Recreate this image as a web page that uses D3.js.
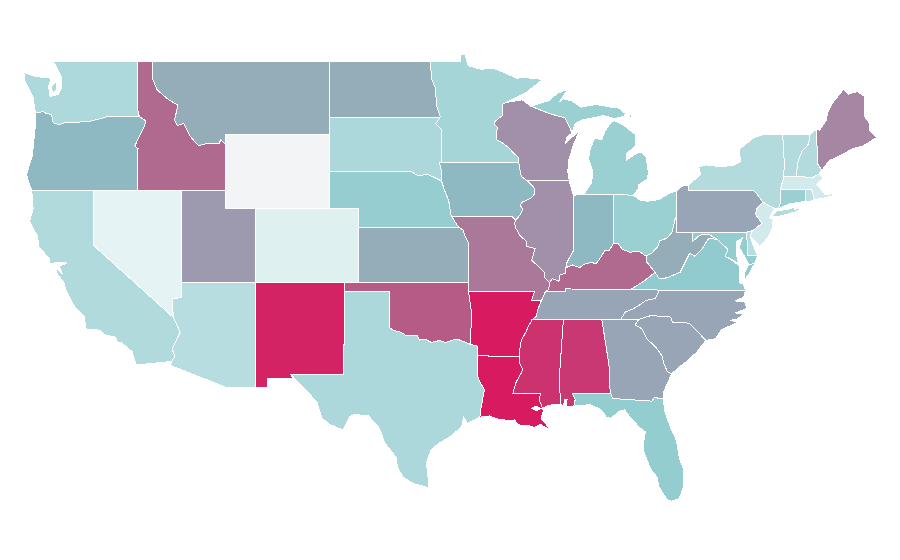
<!DOCTYPE html>
<html>
<head>
<meta charset="utf-8">
<script src="https://cdn.jsdelivr.net/npm/d3@7"></script>
<style>
  html, body { margin: 0; padding: 0; background: #fff; }
  .state { stroke: #fff; stroke-width: 1px; fill-rule: evenodd; shape-rendering: crispEdges; }
</style>
</head>
<body>
<svg id="map" width="900" height="560"></svg>
<script>
// shared borders, [lon, lat]
var stCroix = [[-92.1,46.75],[-92.29,46.66],[-92.29,46.07],[-92.87,45.7],[-92.88,45.57],[-92.65,45.4],[-92.76,45.0],[-92.75,44.75],[-92.3,44.55],[-91.9,44.3],[-91.6,44.03],[-91.26,43.8],[-91.22,43.5]];
var iaWi = [[-91.22,43.5],[-91.15,43.15],[-91.05,42.75],[-90.64,42.5]];
var iaIl = [[-90.64,42.5],[-90.42,42.33],[-90.15,42.1],[-90.16,41.8],[-90.34,41.6],[-90.66,41.46],[-91.05,41.33],[-91.1,41.15],[-90.95,40.95],[-91.1,40.7],[-91.42,40.38]];
var moIl = [[-91.42,40.38],[-91.5,40.2],[-91.42,39.93],[-91.1,39.5],[-90.73,39.25],[-90.68,38.95],[-90.2,38.85],[-90.12,38.83],[-90.2,38.6],[-90.35,38.2],[-89.9,37.88],[-89.5,37.55],[-89.5,37.3],[-89.13,37.0]];
var moKy = [[-89.13,37.0],[-89.2,36.62],[-89.42,36.5]];
var moTn = [[-89.42,36.5],[-89.6,36.15],[-89.7,36.0]];
var arTn = [[-89.7,36.0],[-89.9,35.6],[-90.05,35.15],[-90.3,35.0]];
var arMs = [[-90.3,35.0],[-90.55,34.65],[-90.75,34.3],[-91.05,33.85],[-91.15,33.4],[-91.17,33.0]];
var laMs = [[-91.17,33.0],[-91.15,32.6],[-90.95,32.3],[-91.05,32.1],[-91.4,31.6],[-91.62,31.0],[-89.73,31.0],[-89.85,30.65],[-89.6,30.18]];
var ilKy = [[-89.13,37.0],[-88.95,37.2],[-88.5,37.07],[-88.45,37.4],[-88.07,37.5],[-88.03,37.8]];
var wabash = [[-88.03,37.8],[-87.95,38.1],[-87.75,38.4],[-87.53,38.7],[-87.53,41.72]];
var inKy = [[-88.03,37.8],[-87.6,37.95],[-87.1,37.8],[-86.8,37.98],[-86.3,38.1],[-86.0,38.0],[-85.75,38.27],[-85.4,38.72],[-85.1,38.72],[-84.82,39.1]];
var ohKy = [[-84.82,39.1],[-84.5,39.1],[-84.2,38.8],[-83.7,38.63],[-83.1,38.7],[-82.6,38.42]];
var ohWv = [[-82.6,38.42],[-82.2,38.6],[-81.75,39.0],[-81.7,39.25],[-81.2,39.4],[-80.85,39.7],[-80.65,40.4],[-80.52,40.64]];
var kyWv = [[-82.6,38.42],[-82.6,38.15],[-82.0,37.55]];
var kyVa = [[-82.0,37.55],[-82.7,37.1],[-83.68,36.6]];
var vaWv = [[-82.0,37.55],[-81.7,37.2],[-81.2,37.25],[-80.3,37.55],[-79.65,38.58],[-79.3,38.42],[-78.85,38.77],[-78.35,39.4],[-77.75,39.32]];
var mdVa = [[-77.75,39.32],[-77.5,39.1],[-77.05,38.8],[-77.25,38.4],[-76.95,38.3]];
var tnNc = [[-81.68,36.59],[-82.0,36.12],[-82.6,36.03],[-83.1,35.75],[-83.5,35.56],[-84.0,35.4],[-84.32,35.0]];
var ncSc = [[-78.55,33.86],[-79.67,34.8],[-80.8,34.82],[-80.93,35.1],[-81.05,35.15],[-82.3,35.2],[-83.1,35.0]];
var gaSc = [[-83.1,35.0],[-83.35,34.7],[-82.9,34.5],[-82.55,33.95],[-81.95,33.5],[-81.5,33.0],[-81.4,32.6],[-81.15,32.15],[-80.87,32.05]];
var gaFl = [[-81.45,30.72],[-82.05,30.75],[-82.2,30.57],[-84.86,30.71],[-85.0,31.0]];
var gaAl = [[-85.0,31.0],[-85.1,31.55],[-85.05,32.1],[-85.18,32.87],[-85.6,35.0]];
var alMs = [[-88.2,35.0],[-88.47,31.9],[-88.4,30.37]];
var alFl = [[-85.0,31.0],[-87.6,31.0],[-87.4,30.65],[-87.5,30.3]];
var redRiver = [[-100.0,34.56],[-99.7,34.4],[-99.2,34.3],[-98.9,34.15],[-98.5,34.1],[-98.1,34.13],[-97.95,33.88],[-97.5,33.9],[-97.15,33.75],[-96.6,33.85],[-96.2,33.75],[-95.6,33.9],[-95.2,33.88],[-94.48,33.64]];
var arOk = [[-94.48,33.64],[-94.43,35.4],[-94.62,36.5]];
var laTx = [[-94.04,33.02],[-94.04,32.0],[-93.85,31.6],[-93.55,31.2],[-93.7,30.5],[-93.8,30.1],[-93.85,29.7]];
var moKsNe = [[-94.62,37.0],[-94.6,39.1],[-94.9,39.6],[-95.0,39.85],[-95.3,40.0]];
var neIa = [[-96.45,42.5],[-96.25,42.0],[-96.0,41.5],[-95.9,41.2],[-95.85,40.7],[-95.77,40.58]];
var sdNe = [[-104.05,43.0],[-98.5,43.0],[-98.0,42.77],[-97.4,42.87],[-96.45,42.5]];
var ndMn = [[-97.23,49.0],[-97.1,48.0],[-96.85,47.5],[-96.8,46.6],[-96.55,46.0],[-96.56,45.94]];
var sdMn = [[-96.56,45.94],[-96.85,45.6],[-96.45,45.3],[-96.45,43.5]];
var sdIa = [[-96.45,43.5],[-96.6,43.5],[-96.45,43.05],[-96.45,42.5]];
var columbia = [[-116.92,46.0],[-118.98,46.0],[-119.3,45.93],[-120.15,45.75],[-120.65,45.73],[-121.2,45.65],[-121.9,45.68],[-122.3,45.55],[-122.75,45.65],[-122.85,46.1],[-123.2,46.15],[-123.4,46.25],[-123.95,46.2]];
var snake = [[-117.03,42.0],[-117.03,43.83],[-117.0,44.25],[-117.22,44.4],[-116.85,45.0],[-116.55,45.5],[-116.47,45.75],[-116.92,46.0]];
var bitterroot = [[-116.05,49.0],[-116.0,48.0],[-115.7,47.43],[-114.93,46.9],[-114.3,46.6],[-114.53,45.8],[-114.35,45.5],[-113.9,45.62],[-113.45,44.9],[-112.9,44.4],[-112.3,44.55],[-111.5,44.55],[-111.4,44.72],[-111.05,44.47]];
var caNv = [[-120.0,39.0],[-114.6,35.1]];
var caAz = [[-114.6,35.1],[-114.15,34.3],[-114.7,33.4],[-114.5,33.0],[-114.72,32.72]];
var azNv = [[-114.6,35.1],[-114.7,36.1],[-114.05,36.2]];
var kyTn = [[-89.42,36.5],[-88.07,36.5],[-88.07,36.65],[-83.68,36.6]];
var nyPa = [[-75.35,42.0],[-75.05,41.75],[-74.7,41.36]];
var njPa = [[-74.7,41.36],[-75.1,41.0],[-75.2,40.7],[-74.75,40.2],[-75.4,39.8]];
var nyNj = [[-74.7,41.36],[-73.9,41.0]];
var nyCt = [[-73.65,41.0],[-73.5,41.3],[-73.5,42.05]];
var nyVt = [[-73.27,42.75],[-73.25,43.6],[-73.35,45.0]];
var vtNh = [[-71.5,45.0],[-71.6,44.5],[-72.05,44.1],[-72.3,43.6],[-72.46,42.73]];
var nhMe = [[-71.08,45.3],[-70.97,43.4],[-70.7,43.07]];
var miWi = [[-90.4,46.55],[-89.1,46.14],[-88.1,45.92],[-87.75,45.35],[-87.6,45.1]];
var miOh = [[-84.8,41.76],[-83.45,41.73]];
var ctRi = [[-71.8,42.02],[-71.8,41.4]];
var maRi = [[-71.8,42.02],[-71.38,42.02],[-71.2,41.5]];
var maNh = [[-72.46,42.73],[-71.3,42.7],[-70.9,42.88]];

function rev(line) { return line.slice().reverse(); }
function ring() { return d3.merge(Array.from(arguments)); }

// each state is a list of rings
var shapeAL = [ring([[-88.2,35.0],[-85.6,35.0]], rev(gaAl), alFl, [[-88.0,30.25],[-87.95,30.65],[-88.1,30.65],[-88.2,30.35],[-88.4,30.37]], rev(alMs))];
var shapeAZ = [ring([[-114.05,37.0],[-109.05,37.0],[-109.05,31.33],[-111.07,31.33],[-114.8,32.5]], rev(caAz), azNv)];
var shapeAR = [ring([[-94.62,36.5],[-90.15,36.5],[-90.37,36.0]], arTn, arMs, [[-94.04,33.02],[-94.04,33.55]], arOk)];
var shapeCA = [ring([[-124.2,42.0],[-120.0,42.0]], caNv, caAz, [[-117.12,32.53],[-117.25,32.85],[-117.4,33.25],[-118.1,33.72],[-118.4,33.75],[-118.5,34.03],[-119.2,34.15],[-119.6,34.42],[-120.5,34.45],[-120.65,35.15],[-121.3,35.7],[-121.9,36.6],[-122.0,36.97],[-122.5,37.5],[-122.48,37.75],[-122.1,37.45],[-122.35,37.88],[-121.8,38.05],[-122.4,38.1],[-122.95,38.0],[-123.0,38.3],[-123.7,38.9],[-123.8,39.5],[-124.35,40.3],[-124.1,41.0]])];
var shapeCO = [[[-109.05,41.0],[-102.05,41.0],[-102.05,37.0],[-109.05,37.0]]];
var shapeCT = [ring(nyCt, ctRi, [[-72.9,41.25]])];
var shapeDE = [[[-75.8,39.72],[-75.55,39.83],[-75.4,39.8],[-75.55,39.5],[-75.4,39.1],[-75.05,38.45],[-75.7,38.45]]];
var shapeFL = [ring(gaFl, alFl, [[-86.4,30.38],[-85.75,30.15],[-85.4,29.85],[-85.35,29.68],[-85.0,29.65],[-84.35,30.05],[-84.05,30.1],[-83.7,29.7],[-83.05,29.15],[-82.65,28.9],[-82.8,28.2],[-82.75,27.8],[-82.45,27.2],[-82.25,26.85],[-81.85,26.45],[-81.75,25.95],[-81.15,25.2],[-80.85,25.15],[-80.35,25.3],[-80.1,25.85],[-80.03,26.8],[-80.35,27.5],[-80.55,28.45],[-80.9,29.05],[-81.3,29.9]])];
var shapeGA = [ring([[-85.6,35.0],[-84.32,35.0]], gaSc, [[-81.15,31.55],[-81.45,31.0]], gaFl, gaAl)];
var shapeID = [ring([[-117.03,49.0]], bitterroot, [[-111.05,42.0],[-114.05,42.0]], snake, [[-117.04,46.42]])];
var shapeIL = [ring(iaIl, moIl, ilKy, wabash, [[-87.8,42.5]])];
var shapeIN = [ring([[-87.2,41.76],[-84.8,41.76]], rev(inKy), wabash)];
var shapeIA = [ring([[-96.45,43.5],[-91.22,43.5]], iaWi, iaIl, [[-91.73,40.6]], rev(neIa), rev(sdIa))];
var shapeKS = [ring([[-102.05,40.0]], rev(moKsNe), [[-102.05,37.0]])];
var shapeKY = [ring(ilKy, inKy, ohKy, kyWv, kyVa, rev(kyTn), rev(moKy))];
var shapeLA = [ring(laMs, [[-89.55,30.0],[-89.7,29.75],[-89.65,29.55],[-89.3,29.25],[-89.14,29.0],[-89.5,29.2],[-89.75,29.3],[-90.0,29.2],[-90.2,29.15],[-90.6,29.25],[-91.0,29.25],[-91.3,29.3],[-91.5,29.55],[-91.85,29.5],[-92.2,29.55],[-92.6,29.58],[-93.2,29.77]], rev(laTx)), [[-90.35,30.17],[-90.05,30.3],[-89.72,30.17],[-90.05,30.05]]];
var shapeME = [ring(nhMe, [[-70.2,43.6],[-69.8,43.75],[-69.05,44.05],[-68.6,44.25],[-67.9,44.4],[-67.0,44.85],[-67.45,45.2],[-67.45,45.6],[-67.78,45.95],[-67.8,47.07],[-68.3,47.35],[-68.9,47.2],[-69.25,47.45],[-70.0,46.7],[-70.3,46.2],[-70.4,45.8],[-70.85,45.25]])];
var shapeMD = [ring([[-79.48,39.72],[-75.8,39.72],[-75.7,38.45],[-75.05,38.45],[-75.25,38.03],[-75.65,37.95],[-75.85,38.3],[-76.3,38.9],[-76.1,39.4],[-76.5,39.2],[-76.5,38.6],[-76.35,38.05]], rev(mdVa), [[-78.4,39.62],[-78.8,39.6],[-79.1,39.47],[-79.48,39.2]])];
var shapeMA = [ring([[-73.5,42.05],[-73.27,42.75]], maNh, [[-70.6,42.65],[-71.05,42.3],[-70.65,41.95],[-70.5,41.78],[-70.0,41.8],[-70.05,42.05],[-69.95,41.7],[-70.65,41.55]], rev(maRi))];
var shapeMI = [
  ring([[-86.82,41.76]], miOh, [[-83.15,42.05],[-83.1,42.3],[-82.5,42.6],[-82.45,43.0],[-82.6,43.8],[-82.95,44.07],[-83.35,43.95],[-83.9,43.65],[-83.9,44.0],[-83.3,44.4],[-83.3,45.0],[-84.1,45.5],[-84.75,45.78],[-85.0,45.65],[-85.35,45.25],[-85.6,44.75],[-86.1,44.8],[-86.4,44.2],[-86.5,43.7],[-86.2,43.0],[-86.3,42.4]]),
  ring(miWi, [[-87.4,45.6],[-86.95,45.8],[-86.3,45.9],[-85.5,46.05],[-84.75,45.88],[-84.1,46.0],[-84.0,46.15],[-84.45,46.45],[-85.0,46.5],[-86.0,46.65],[-87.0,46.5],[-87.6,46.83],[-88.2,46.95],[-88.45,46.8],[-87.9,47.47],[-88.6,47.25],[-89.2,46.85]]),
  [[-89.2,47.87],[-88.55,48.17],[-88.95,47.95]],
  [[-83.9,46.05],[-83.5,46.1],[-83.65,45.95]]
];
var shapeMN = [ring([[-97.23,49.0],[-95.15,49.0],[-95.15,49.38],[-94.85,49.33],[-94.65,48.75],[-93.8,48.55],[-92.95,48.62],[-92.0,48.3],[-91.4,48.07],[-90.75,48.1],[-89.6,48.0],[-90.7,47.3]], stCroix, [[-96.45,43.5]], rev(sdMn), rev(ndMn))];
var shapeMS = [ring([[-90.3,35.0]], alMs, [[-88.85,30.4],[-89.3,30.3]], rev(laMs), rev(arMs))];
var shapeMO = [ring([[-95.77,40.58],[-91.73,40.6]], moIl, moKy, moTn, [[-90.37,36.0],[-90.15,36.5],[-94.62,36.5]], moKsNe)];
var shapeMT = [ring(bitterroot, [[-111.05,45.0],[-104.05,45.0],[-104.05,49.0]])];
var shapeNE = [ring(sdNe, neIa, [[-95.3,40.0],[-102.05,40.0],[-102.05,41.0],[-104.05,41.0]])];
var shapeNV = [ring([[-120.0,42.0],[-114.05,42.0]], rev(azNv), rev(caNv))];
var shapeNH = [ring(vtNh, maNh, rev(nhMe))];
var shapeNJ = [ring(njPa, [[-75.55,39.5],[-75.15,39.2],[-74.9,38.93],[-74.4,39.4],[-74.05,39.9],[-74.0,40.4],[-74.25,40.5]], rev(nyNj))];
var shapeNM = [[[-109.05,37.0],[-103.0,37.0],[-103.04,36.5],[-103.06,32.0],[-106.62,32.0],[-106.53,31.78],[-108.2,31.78],[-108.2,31.33],[-109.05,31.33]]];
var shapeNY = [
  ring([[-79.76,42.27],[-79.76,42.0]], nyPa, nyNj, nyCt, nyVt, [[-74.7,45.0],[-75.3,44.85],[-76.3,44.2],[-76.2,43.55],[-76.7,43.35],[-77.5,43.27],[-78.5,43.37],[-79.05,43.27],[-78.9,42.85]]),
  [[-74.05,40.6],[-73.75,40.87],[-73.0,40.97],[-72.3,41.15],[-72.6,40.95],[-71.9,41.07],[-72.4,40.85],[-73.5,40.6]]
];
var shapeNC = [ring([[-75.87,36.55],[-76.0,36.2],[-76.6,36.0],[-75.95,35.95],[-75.75,35.6],[-76.55,35.35],[-76.0,35.3],[-76.45,35.0],[-76.9,34.95],[-76.35,34.85],[-76.9,34.65],[-77.5,34.45],[-77.9,33.95]], ncSc, rev(tnNc))];
var shapeND = [ring(ndMn, [[-104.05,45.94],[-104.05,49.0]])];
var shapeOH = [ring(miOh, [[-83.0,41.45],[-82.5,41.4],[-81.7,41.5],[-81.0,41.85],[-80.52,41.98]], rev(ohWv), rev(ohKy))];
var shapeOK = [ring([[-103.0,37.0],[-94.62,37.0]], rev(arOk), rev(redRiver), [[-100.0,36.5],[-103.04,36.5]])];
var shapeOR = [ring([[-124.2,42.0]], snake, columbia, [[-123.95,45.5],[-124.05,44.7],[-124.15,43.9],[-124.55,42.85],[-124.4,42.4]])];
var shapePA = [ring([[-80.52,41.98],[-80.08,42.27],[-79.76,42.27],[-79.76,42.0]], nyPa, njPa, [[-75.8,39.72],[-80.52,39.72]])];
var shapeRI = [ring(maRi, [[-71.5,41.37]], rev(ctRi))];
var shapeSC = [ring(ncSc, gaSc, [[-80.45,32.35],[-79.9,32.7],[-79.2,33.2]])];
var shapeSD = [ring([[-104.05,45.94]], sdMn, sdIa, rev(sdNe))];
var shapeTN = [ring(kyTn, tnNc, [[-88.2,35.0]], rev(arTn), rev(moTn))];
var shapeTX = [ring([[-103.04,36.5],[-100.0,36.5]], redRiver, [[-94.04,33.55]], laTx, [[-94.7,29.35],[-94.95,29.7],[-95.1,29.15],[-95.95,28.6],[-96.6,28.3],[-97.15,27.95],[-97.5,27.2],[-97.4,26.8],[-97.3,25.85],[-97.6,25.95],[-98.35,26.1],[-99.05,26.45],[-99.45,27.0],[-99.5,27.5],[-100.3,28.3],[-100.65,29.1],[-101.4,29.77],[-102.35,29.85],[-102.7,29.7],[-103.1,29.0],[-104.0,29.3],[-104.55,29.65],[-104.9,30.55],[-105.95,31.4],[-106.62,32.0],[-103.06,32.0]])];
var shapeUT = [[[-114.05,42.0],[-111.05,42.0],[-111.05,41.0],[-109.05,41.0],[-109.05,37.0],[-114.05,37.0]]];
var shapeVT = [ring(rev(nyVt), rev(vtNh))];
var shapeVA = [
  ring([[-83.68,36.6],[-81.68,36.59],[-75.87,36.55],[-76.0,36.9],[-76.3,37.0],[-76.3,37.5],[-76.3,37.9]], rev(mdVa), rev(vaWv), kyVa),
  [[-75.65,37.95],[-75.25,38.03],[-75.6,37.5],[-75.95,37.12],[-75.95,37.5]]
];
var shapeWA = [
  ring([[-122.75,49.0],[-117.03,49.0],[-117.04,46.42]], columbia, [[-124.05,46.7],[-124.1,47.0],[-124.65,47.9],[-124.73,48.38],[-123.9,48.15],[-123.15,48.1],[-122.9,48.05],[-123.05,47.6],[-122.95,47.07],[-122.4,47.2],[-122.15,47.6],[-122.15,48.07],[-122.4,48.5]]),
  [[-122.85,47.65],[-122.55,47.85],[-122.5,47.45],[-122.8,47.25]]
];
var shapeWV = [ring([[-80.52,40.64],[-80.52,39.72],[-79.48,39.72],[-79.48,39.2],[-79.1,39.47],[-78.8,39.6],[-78.4,39.62]], rev(vaWv), rev(kyWv), ohWv)];
var shapeWI = [ring([[-92.1,46.75],[-91.0,46.9]], miWi, [[-87.95,44.9],[-88.05,44.55],[-87.1,45.25],[-87.5,44.5],[-87.85,43.6],[-87.9,43.0],[-87.8,42.5]], rev(iaWi), rev(stCroix))];
var shapeWY = [[[-111.05,45.0],[-104.05,45.0],[-104.05,41.0],[-111.05,41.0]]];

var stateNames = ["Alabama","Arizona","Arkansas","California","Colorado","Connecticut","Delaware","Florida","Georgia","Idaho","Illinois","Indiana","Iowa","Kansas","Kentucky","Louisiana","Maine","Maryland","Massachusetts","Michigan","Minnesota","Mississippi","Missouri","Montana","Nebraska","Nevada","New Hampshire","New Jersey","New Mexico","New York","North Carolina","North Dakota","Ohio","Oklahoma","Oregon","Pennsylvania","Rhode Island","South Carolina","South Dakota","Tennessee","Texas","Utah","Vermont","Virginia","Washington","West Virginia","Wisconsin","Wyoming"];
var stateValues = [86,18,100,20,6,27,18,29,46,66,54,36,36,42,66,100,57,29,10,27,23.5,89,62,42,28.5,4,19.5,10,96,19.5,46,42,27,70,36,46,17,46,21.5,46,21.5,50,19.5,29.7,21,42,54,0];
var stateShapes = [shapeAL,shapeAZ,shapeAR,shapeCA,shapeCO,shapeCT,shapeDE,shapeFL,shapeGA,shapeID,shapeIL,shapeIN,shapeIA,shapeKS,shapeKY,shapeLA,shapeME,shapeMD,shapeMA,shapeMI,shapeMN,shapeMS,shapeMO,shapeMT,shapeNE,shapeNV,shapeNH,shapeNJ,shapeNM,shapeNY,shapeNC,shapeND,shapeOH,shapeOK,shapeOR,shapePA,shapeRI,shapeSC,shapeSD,shapeTN,shapeTX,shapeUT,shapeVT,shapeVA,shapeWA,shapeWV,shapeWI,shapeWY];

var colorStops = [0, 4, 30, 36, 42, 46, 54, 62, 70, 100];
var colorRange = ["#f3f4f6","#e5f3f4","#91cbcf","#8eb9c3","#94adb9","#97a5b7","#a28fa9","#aa7898","#b65a86","#d81b60"];

var width = 900, height = 560;

var x = d3.scaleLinear().domain([-124.7, -67]).range([24.3, 876.5]);
var y = d3.scaleLinear().domain([49, 25.12]).range([61, 501.7]);
var color = d3.scaleLinear().domain(colorStops).range(colorRange);

var path = d3.geoPath(d3.geoTransform({
    point: function(lon, lat) { this.stream.point(x(lon), y(lat)); }
}));

function closed(r) { return r.concat([r[0]]); }

var features = stateNames.map(function(name, i) {
    return {
        type: "Feature",
        properties: { name: name, value: stateValues[i] },
        geometry: { type: "MultiPolygon", coordinates: stateShapes[i].map(function(r) { return [closed(r)]; }) }
    };
});
// Louisiana's lake is a hole, not an island
features[stateNames.indexOf("Louisiana")].geometry = { type: "Polygon", coordinates: shapeLA.map(closed) };

d3.select("#map")
    .attr("viewBox", "0 0 " + width + " " + height)
  .selectAll("path")
    .data(features)
    .enter()
    .append("path")
    .attr("class", "state")
    .attr("d", path)
    .attr("fill", function(d) { return color(d.properties.value); })
    .append("title")
    .text(function(d) { return d.properties.name; });
</script>
</body>
</html>
